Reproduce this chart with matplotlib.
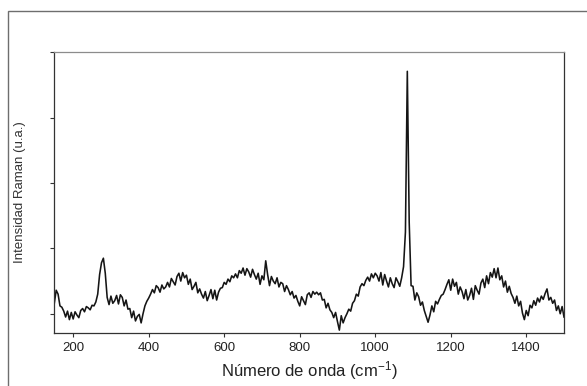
import numpy as np
import matplotlib
matplotlib.use("Agg")
import matplotlib.pyplot as plt
from matplotlib.patches import Rectangle

plt.rcParams['font.family'] = ['Liberation Sans', 'DejaVu Sans']
plt.rcParams['mathtext.default'] = 'regular'

# Número de onda (cm-1), paso de 5
wavenumber = np.arange(150, 1505, 5)

# Intensidad (unidades = separación entre marcas del eje y)
intensity = [
    0.16, 0.36, 0.30, 0.12, 0.10, 0.04, -0.05, 0.04, -0.09, 0.02,    # 150-195
    -0.08, 0.03, -0.02, -0.06, 0.05, 0.08, 0.03, 0.11, 0.09, 0.06,   # 200-245
    0.13, 0.12, 0.18, 0.30, 0.60, 0.78, 0.85, 0.62, 0.25, 0.14,      # 250-295
    0.27, 0.16, 0.20, 0.28, 0.15, 0.29, 0.25, 0.12, 0.21, 0.07,      # 300-345
    0.08, -0.06, 0.04, -0.11, -0.04, -0.01, -0.14, 0.00, 0.12, 0.19, # 350-395
    0.24, 0.30, 0.37, 0.32, 0.43, 0.40, 0.33, 0.44, 0.38, 0.41,      # 400-445
    0.48, 0.41, 0.54, 0.49, 0.44, 0.57, 0.62, 0.50, 0.63, 0.55,      # 450-495
    0.59, 0.45, 0.53, 0.37, 0.42, 0.48, 0.32, 0.38, 0.30, 0.24,      # 500-545
    0.34, 0.20, 0.28, 0.37, 0.23, 0.36, 0.21, 0.33, 0.39, 0.40,      # 550-595
    0.48, 0.45, 0.53, 0.49, 0.58, 0.55, 0.61, 0.55, 0.66, 0.62,      # 600-645
    0.70, 0.59, 0.69, 0.64, 0.56, 0.68, 0.60, 0.53, 0.62, 0.45,      # 650-695
    0.58, 0.52, 0.81, 0.60, 0.43, 0.57, 0.50, 0.46, 0.55, 0.41,      # 700-745
    0.48, 0.46, 0.34, 0.43, 0.37, 0.29, 0.34, 0.24, 0.28, 0.19,      # 750-795
    0.12, 0.26, 0.20, 0.14, 0.29, 0.32, 0.25, 0.34, 0.30, 0.33,      # 800-845
    0.29, 0.32, 0.21, 0.22, 0.09, 0.16, 0.06, 0.02, -0.06, 0.02,     # 850-895
    -0.12, -0.25, -0.03, -0.14, -0.06, 0.00, 0.07, 0.04, 0.16, 0.20, # 900-945
    0.30, 0.27, 0.41, 0.46, 0.43, 0.51, 0.56, 0.50, 0.61, 0.55,      # 950-995
    0.62, 0.58, 0.50, 0.63, 0.44, 0.60, 0.50, 0.41, 0.55, 0.46,      # 1000-1045
    0.40, 0.55, 0.49, 0.42, 0.55, 0.72, 1.25, 3.71, 1.40, 0.43,      # 1050-1095
    0.42, 0.21, 0.32, 0.26, 0.13, 0.18, 0.05, -0.04, -0.13, -0.02,   # 1100-1145
    0.12, 0.03, 0.19, 0.15, 0.22, 0.28, 0.30, 0.37, 0.45, 0.52,      # 1150-1195
    0.36, 0.53, 0.42, 0.48, 0.30, 0.41, 0.34, 0.23, 0.37, 0.21,      # 1200-1245
    0.28, 0.39, 0.22, 0.43, 0.36, 0.30, 0.47, 0.53, 0.40, 0.58,      # 1250-1295
    0.46, 0.63, 0.56, 0.69, 0.55, 0.70, 0.52, 0.58, 0.41, 0.50,      # 1300-1345
    0.33, 0.42, 0.31, 0.25, 0.16, 0.27, 0.12, 0.19, 0.01, -0.09,     # 1350-1395
    0.05, -0.03, 0.13, 0.09, 0.20, 0.13, 0.24, 0.18, 0.27, 0.22,     # 1400-1445
    0.31, 0.38, 0.21, 0.25, 0.16, 0.21, 0.05, 0.12, 0.00, 0.11,      # 1450-1495
    -0.05,                                                           # 1500
]

x_ticks = [200, 400, 600, 800, 1000, 1200, 1400]
y_ticks = [0, 1, 2, 3, 4]

fig = plt.figure(figsize=(5.87, 3.86), dpi=100)
ax = fig.add_axes([54.3 / 587, 1 - 332.7 / 386, (564 - 54.3) / 587, (332.7 - 51.7) / 386])

# marco exterior gris
fig.patches.append(Rectangle((8.3 / 587, -0.1), 1.2, 1 - 10.7 / 386 + 0.1,
                             transform=fig.transFigure, fill=False,
                             edgecolor='#6e6e6e', linewidth=1.0))

ax.plot(wavenumber, intensity, color='#151515', linewidth=1.15)

ax.set_xlim(150, 1500)
ax.set_ylim(-0.29, 4.01)
ax.set_xticks(x_ticks)
ax.set_yticks(y_ticks)
ax.set_yticklabels([])
ax.tick_params(direction='out', length=3, width=0.8, colors='#333333',
               labelsize=9.5, labelcolor='#222222', pad=4)

for side in ['left', 'bottom', 'right']:
    ax.spines[side].set_color('#333333')
    ax.spines[side].set_linewidth(0.9)
ax.spines['top'].set_color('#8c8c8c')
ax.spines['top'].set_linewidth(0.9)

ax.set_xlabel('Número de onda (cm$^{-1}$)', fontsize=12, color='#222222')
ax.set_ylabel('Intensidad Raman (u.a.)', fontsize=9.5, color='#333333')
ax.xaxis.set_label_coords(0.5, -0.095)
ax.yaxis.set_label_coords(-0.0555, 0.5)

fig.savefig('out.png', dpi=100)
